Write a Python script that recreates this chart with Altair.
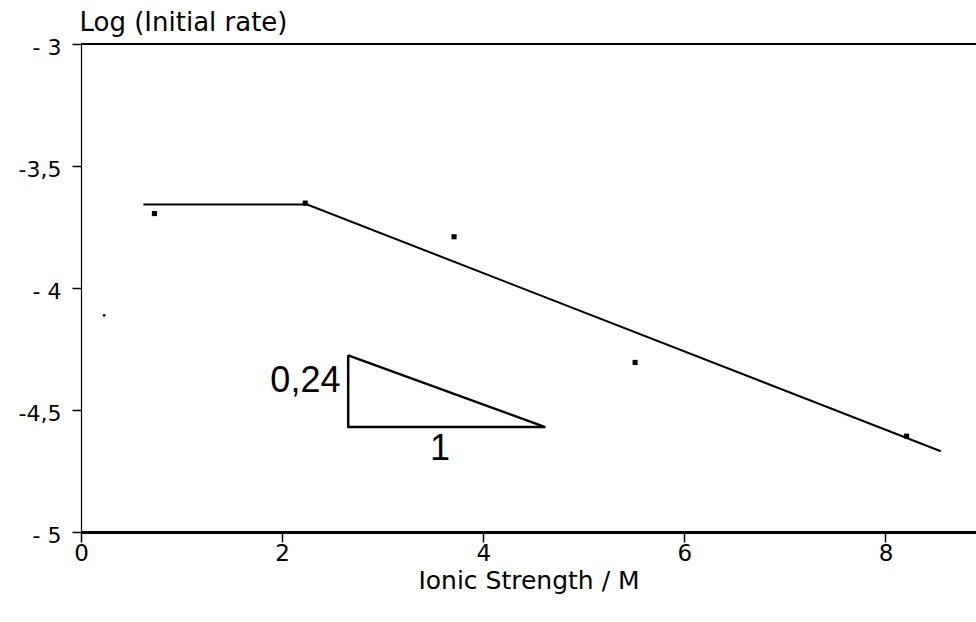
import altair as alt
import pandas as pd

# measured points
pt_x = [0.73, 2.23, 3.71, 5.51, 8.21]
pt_y = [-3.695, -3.652, -3.79, -4.305, -4.607]
small_x = [0.23]
small_y = [-4.112]

# fitted line (plateau then slope)
fit_x = [0.62, 2.25, 8.55]
fit_y = [-3.658, -3.658, -4.669]

# slope triangle
tri_x = [2.657, 2.657, 4.617, 2.657]
tri_y = [-4.276, -4.570, -4.570, -4.276]
tri_order = [0, 1, 2, 3]

# annotations
ann_text = ["0,24", "1"]
ann_x = [2.58, 3.57]
ann_y = [-4.38, -4.66]

x_ticks = [0, 2, 4, 6, 8]
y_ticks = [-3, -3.5, -4, -4.5, -5]

AXFONT = "DejaVu Sans"
ANFONT = "Liberation Sans"

xs = alt.Scale(domain=[0, 8.9], nice=False, zero=False)
ys = alt.Scale(domain=[-5, -3], nice=False, zero=False)

pts = pd.DataFrame({"x": pt_x, "y": pt_y})
small = pd.DataFrame({"x": small_x, "y": small_y})
fit = pd.DataFrame({"x": fit_x, "y": fit_y, "o": [0, 1, 2]})
tri = pd.DataFrame({"x": tri_x, "y": tri_y, "o": tri_order})
ann = pd.DataFrame({"t": ann_text, "x": ann_x, "y": ann_y})
top = pd.DataFrame({"y": [-3]})

xaxis = alt.Axis(values=x_ticks, format="d", title="Ionic Strength / M", grid=False,
                 tickSize=10, tickColor="black", tickWidth=1.5,
                 domainColor="black", domainWidth=3, labelFontSize=23,
                 labelFont=AXFONT, labelColor="black", labelPadding=0,
                 labelFlush=False,
                 titleFont=AXFONT, titleFontSize=25, titleFontWeight="normal",
                 titleColor="black", titlePadding=3)
yaxis = alt.Axis(values=y_ticks, title="Log (Initial rate)", grid=False,
                 tickSize=9, tickColor="black", tickWidth=1.5,
                 domainColor="black", domainWidth=1.2, labelFontSize=22,
                 labelFont=AXFONT, labelColor="black", labelPadding=11,
                 labelFlush=False, labelOffset=3,
                 labelExpr="(datum.value == floor(datum.value) ? '- ' : '-') + replace(toString(abs(datum.value)), '.', ',')",
                 titleFont=AXFONT, titleFontSize=26, titleFontWeight="normal",
                 titleColor="black", titleAngle=0, titleAlign="left",
                 titleBaseline="alphabetic", titleX=-2, titleY=-14)

base_pts = alt.Chart(pts).mark_square(size=26, color="black", opacity=1).encode(
    x=alt.X("x:Q", scale=xs, axis=xaxis),
    y=alt.Y("y:Q", scale=ys, axis=yaxis),
)
small_pts = alt.Chart(small).mark_circle(size=8, color="black", opacity=1).encode(
    x=alt.X("x:Q", scale=xs), y=alt.Y("y:Q", scale=ys))
fit_line = alt.Chart(fit).mark_line(color="black", strokeWidth=2).encode(
    x=alt.X("x:Q", scale=xs), y=alt.Y("y:Q", scale=ys), order="o:Q")
tri_line = alt.Chart(tri).mark_line(color="black", strokeWidth=2.5).encode(
    x=alt.X("x:Q", scale=xs), y=alt.Y("y:Q", scale=ys), order="o:Q")
top_rule = alt.Chart(top).mark_rule(color="black", strokeWidth=2).encode(
    y=alt.Y("y:Q", scale=ys))

t1 = alt.Chart(ann.iloc[[0]]).mark_text(fontSize=36, font=ANFONT, color="black",
                                        baseline="middle", align="right").encode(
    x=alt.X("x:Q", scale=xs), y=alt.Y("y:Q", scale=ys), text="t:N")
t2 = alt.Chart(ann.iloc[[1]]).mark_text(fontSize=36, font=ANFONT, color="black",
                                        baseline="middle", align="center").encode(
    x=alt.X("x:Q", scale=xs), y=alt.Y("y:Q", scale=ys), text="t:N")

chart = alt.layer(base_pts, small_pts, fit_line, tri_line, top_rule, t1, t2).properties(
    width=895, height=488,
    autosize=alt.AutoSizeParams(type="none"),
    padding={"left": 81, "top": 44, "right": 0, "bottom": 90},
    background="white",
).configure_view(strokeWidth=0)

chart.save("out.html", embed_options={"renderer": "svg", "actions": False})
